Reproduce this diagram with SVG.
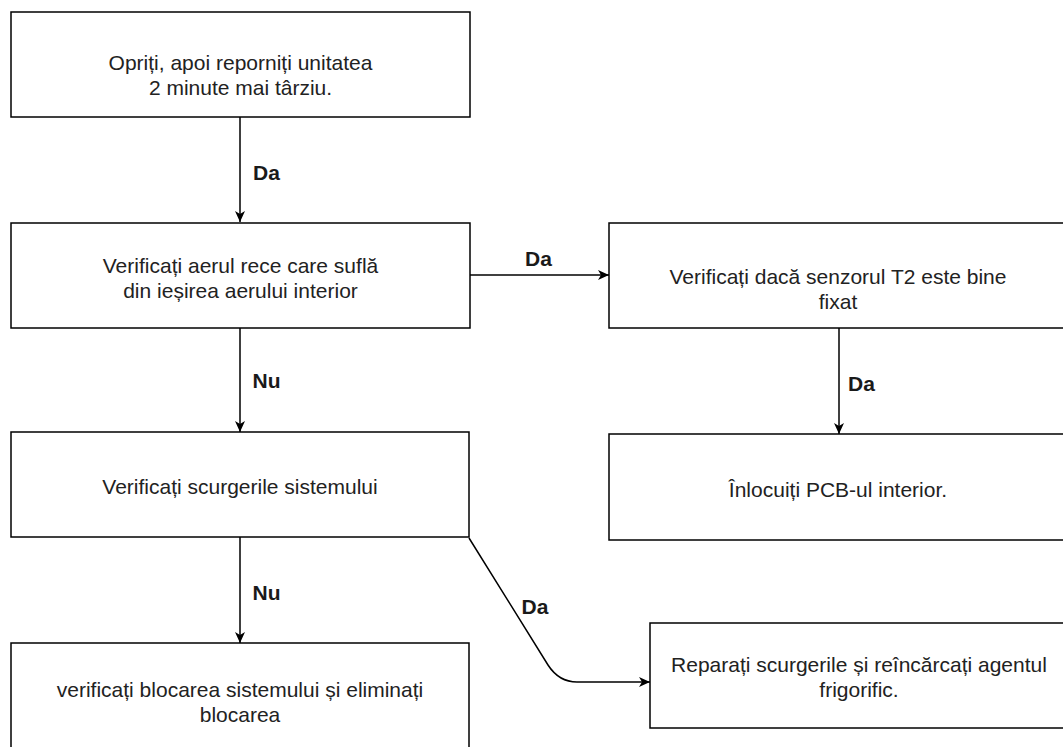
<svg xmlns="http://www.w3.org/2000/svg" width="1063" height="747" viewBox="0 0 1063 747">
<style>
.box{fill:#fff;stroke:#000;stroke-width:1.5}
.t{font-family:"Liberation Sans",Arial,sans-serif;font-size:21px;fill:#222;text-anchor:middle}
.l{font-family:"Liberation Sans",Arial,sans-serif;font-size:21px;font-weight:bold;fill:#1a1a1a;text-anchor:middle}
.c{fill:none;stroke:#000;stroke-width:1.5}
</style>
<defs>
<marker id="ah" markerWidth="12" markerHeight="10" refX="11" refY="5" orient="auto" markerUnits="userSpaceOnUse">
<path d="M0,0 L11,5 L0,10 L3,5 Z" fill="#000"/>
</marker>
</defs>
<rect width="1063" height="747" fill="#fff"/>
<g id="connectors">
<path class="c" d="M240,117 L240,222" marker-end="url(#ah)"/>
<path class="c" d="M470,275 L609,275" marker-end="url(#ah)"/>
<path class="c" d="M240,328 L240,432" marker-end="url(#ah)"/>
<path class="c" d="M839,328 L839,434" marker-end="url(#ah)"/>
<path class="c" d="M240,537 L240,643" marker-end="url(#ah)"/>
<path class="c" d="M469,538 L548,665 Q559,682 577,682 L650,682" marker-end="url(#ah)"/>
<text class="l" x="266.5" y="179.5">Da</text>
<text class="l" x="538.5" y="265.5">Da</text>
<text class="l" x="861.5" y="390.5">Da</text>
<text class="l" x="266.5" y="387.5">Nu</text>
<text class="l" x="266.5" y="599.5">Nu</text>
<text class="l" x="535" y="614">Da</text>
</g>
<g id="n1">
<rect class="box" x="11" y="12" width="459" height="105"/>
<text class="t" x="240.5" y="69.5">Opriți, apoi reporniți unitatea</text>
<text class="t" x="240.5" y="94.5">2 minute mai târziu.</text>
</g>
<g id="n2">
<rect class="box" x="11" y="223" width="459" height="105"/>
<text class="t" x="240.5" y="273">Verificați aerul rece care suflă</text>
<text class="t" x="240.5" y="298">din ieșirea aerului interior</text>
</g>
<g id="n3">
<rect class="box" x="609" y="223" width="458" height="105"/>
<text class="t" x="838" y="283.5">Verificați dacă senzorul T2 este bine</text>
<text class="t" x="838" y="308.5">fixat</text>
</g>
<g id="n4">
<rect class="box" x="609" y="434" width="458" height="106"/>
<text class="t" x="838" y="497">Înlocuiți PCB-ul interior.</text>
</g>
<g id="n5">
<rect class="box" x="11" y="432" width="458" height="105"/>
<text class="t" x="240" y="494">Verificați scurgerile sistemului</text>
</g>
<g id="n6">
<rect class="box" x="11" y="643" width="458" height="106"/>
<text class="t" x="240" y="697">verificați blocarea sistemului și eliminați</text>
<text class="t" x="240" y="722">blocarea</text>
</g>
<g id="n7">
<rect class="box" x="650" y="623" width="418" height="105"/>
<text class="t" x="859" y="672">Reparați scurgerile și reîncărcați agentul</text>
<text class="t" x="859" y="697">frigorific.</text>
</g>
</svg>
